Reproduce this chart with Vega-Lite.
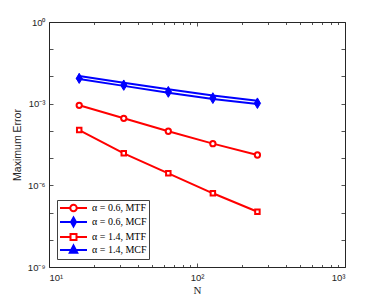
{
  "$schema": "https://vega.github.io/schema/vega-lite/v6.json",
  "width": 296,
  "height": 245,
  "autosize": "none",
  "padding": {"left": 49, "top": 22, "right": 37, "bottom": 33},
  "background": "white",
  "config": {
    "view": {"stroke": "#262626", "strokeWidth": 1},
    "axis": {"domain": false, "grid": false, "tickColor": "#262626", "labelColor": "#262626", "labelFont": "Liberation Sans", "labelFontSize": 9.5, "titleColor": "#262626", "tickWidth": 0.8}
  },
  "data": {"values": [
    {"series": "α = 0.6, MTF", "N": 16, "err": 8.7e-4},
    {"series": "α = 0.6, MTF", "N": 32, "err": 2.9e-4},
    {"series": "α = 0.6, MTF", "N": 64, "err": 9.7e-5},
    {"series": "α = 0.6, MTF", "N": 128, "err": 3.4e-5},
    {"series": "α = 0.6, MTF", "N": 256, "err": 1.3e-5},
    {"series": "α = 0.6, MCF", "N": 16, "err": 8.1e-3},
    {"series": "α = 0.6, MCF", "N": 32, "err": 4.5e-3},
    {"series": "α = 0.6, MCF", "N": 64, "err": 2.5e-3},
    {"series": "α = 0.6, MCF", "N": 128, "err": 1.48e-3},
    {"series": "α = 0.6, MCF", "N": 256, "err": 9.7e-4},
    {"series": "α = 1.4, MTF", "N": 16, "err": 1.07e-4},
    {"series": "α = 1.4, MTF", "N": 32, "err": 1.5e-5},
    {"series": "α = 1.4, MTF", "N": 64, "err": 2.76e-6},
    {"series": "α = 1.4, MTF", "N": 128, "err": 5.1e-7},
    {"series": "α = 1.4, MTF", "N": 256, "err": 1.07e-7},
    {"series": "α = 1.4, MCF", "N": 16, "err": 1.04e-2},
    {"series": "α = 1.4, MCF", "N": 32, "err": 5.9e-3},
    {"series": "α = 1.4, MCF", "N": 64, "err": 3.4e-3},
    {"series": "α = 1.4, MCF", "N": 128, "err": 2.0e-3},
    {"series": "α = 1.4, MCF", "N": 256, "err": 1.29e-3}
  ]},
  "resolve": {"axis": {"x": "independent", "y": "independent"}},
  "layer": [
    {
      "transform": [{"filter": "datum.N < 0"}],
      "mark": {"type": "point", "strokeWidth": 2, "opacity": 1},
      "encoding": {
        "x": {"field": "N", "type": "quantitative", "scale": {"type": "log", "domain": [10, 1000], "nice": false},
          "axis": {"orient": "bottom", "values": [10, 100, 1000], "tickSize": -4, "labelPadding": 9,
            "labelExpr": "datum.value < 50 ? '10¹' : datum.value < 500 ? '10²' : '10³'",
            "title": "N", "titleFont": "Liberation Serif", "titleFontSize": 11, "titleFontWeight": "normal", "titlePadding": 3}},
        "y": {"field": "err", "type": "quantitative", "scale": {"type": "log", "domain": [1e-9, 1], "nice": false},
          "axis": {"orient": "left", "values": [1e-9, 1e-8, 1e-7, 1e-6, 1e-5, 1e-4, 1e-3, 1e-2, 1e-1, 1], "tickSize": -4, "labelPadding": 8,
            "labelExpr": "round(log(datum.value)/LN10) == 0 ? '10⁰' : round(log(datum.value)/LN10) == -3 ? '10⁻³' : round(log(datum.value)/LN10) == -6 ? '10⁻⁶' : round(log(datum.value)/LN10) == -9 ? '10⁻⁹' : ''",
            "title": "Maximum Error", "titleFont": "Liberation Sans", "titleFontSize": 10.5, "titleFontWeight": "normal", "titlePadding": 5}},
        "color": {"field": "series", "type": "nominal",
          "scale": {"domain": ["α = 0.6, MTF", "α = 0.6, MCF", "α = 1.4, MTF", "α = 1.4, MCF"], "range": ["#ff0000", "#0000ff", "#ff0000", "#0000ff"]},
          "legend": {"title": null, "orient": "bottom-left", "offset": 8, "padding": 2, "strokeColor": "#404040", "fillColor": "white",
            "labelFont": "Liberation Serif", "labelFontSize": 10, "labelColor": "black", "symbolSize": 100, "symbolStrokeWidth": 2, "rowPadding": -6, "labelOffset": 21}},
        "shape": {"field": "series", "type": "nominal",
          "scale": {"domain": ["α = 0.6, MTF", "α = 0.6, MCF", "α = 1.4, MTF", "α = 1.4, MCF"],
            "range": ["M-1,0L1.05,0M2.35,0L4.4,0M2.35,0A0.65,0.65,0,1,1,1.05,0A0.65,0.65,0,1,1,2.35,0", "M-1,0L4.4,0M1.7,-0.9L2.2,0L1.7,0.9L1.2,0Z", "M-1,0L1.1,0M2.3,0L4.4,0M1.1,-0.6L2.3,-0.6L2.3,0.6L1.1,0.6Z", "M-1,0L4.4,0M1.7,-0.9L2.45,0.55L0.95,0.55Z"]},
          "legend": null},
        "fill": {"field": "series", "type": "nominal", "scale": {"domain": ["α = 0.6, MTF", "α = 0.6, MCF", "α = 1.4, MTF", "α = 1.4, MCF"], "range": ["white", "#0000ff", "white", "#0000ff"]}, "legend": null}
      }
    },
    {
      "mark": {"type": "line", "strokeWidth": 2},
      "encoding": {
        "x": {"field": "N", "type": "quantitative", "axis": {"orient": "top", "values": [10, 100, 1000], "tickSize": -4, "labels": false, "title": null}},
        "y": {"field": "err", "type": "quantitative", "axis": {"orient": "right", "values": [1e-9, 1e-8, 1e-7, 1e-6, 1e-5, 1e-4, 1e-3, 1e-2, 1e-1, 1], "tickSize": -4, "labels": false, "title": null}},
        "color": {"field": "series", "type": "nominal", "legend": null}
      }
    },
    {
      "transform": [{"filter": "datum.series == 'α = 0.6, MTF'"}],
      "mark": {"type": "point", "shape": "circle", "size": 28, "strokeWidth": 2, "stroke": "#ff0000", "fill": "white", "filled": false, "opacity": 1, "fillOpacity": 1},
      "encoding": {
        "x": {"field": "N", "type": "quantitative", "axis": {"orient": "bottom", "values": [20, 30, 40, 50, 60, 70, 80, 90, 200, 300, 400, 500, 600, 700, 800, 900], "tickSize": -2.5, "labels": false, "title": null}},
        "y": {"field": "err", "type": "quantitative", "axis": null}
      }
    },
    {
      "transform": [{"filter": "datum.series == 'α = 0.6, MCF'"}],
      "mark": {"type": "point", "shape": "M0,-1L0.6,0L0,1L-0.6,0Z", "size": 80, "strokeWidth": 1, "stroke": "#0000ff", "fill": "#0000ff", "filled": true, "opacity": 1},
      "encoding": {
        "x": {"field": "N", "type": "quantitative", "axis": {"orient": "top", "values": [20, 30, 40, 50, 60, 70, 80, 90, 200, 300, 400, 500, 600, 700, 800, 900], "tickSize": -2.5, "labels": false, "title": null}},
        "y": {"field": "err", "type": "quantitative", "axis": null}
      }
    },
    {
      "transform": [{"filter": "datum.series == 'α = 1.4, MTF'"}],
      "mark": {"type": "point", "shape": "square", "size": 20, "strokeWidth": 2, "stroke": "#ff0000", "fill": "white", "filled": false, "opacity": 1, "fillOpacity": 1},
      "encoding": {
        "x": {"field": "N", "type": "quantitative", "axis": null},
        "y": {"field": "err", "type": "quantitative", "axis": null}
      }
    },
    {
      "transform": [{"filter": "datum.series == 'α = 1.4, MCF'"}],
      "mark": {"type": "point", "shape": "triangle-up", "size": 40, "strokeWidth": 1, "stroke": "#0000ff", "fill": "#0000ff", "filled": true, "opacity": 1},
      "encoding": {
        "x": {"field": "N", "type": "quantitative", "axis": null},
        "y": {"field": "err", "type": "quantitative", "axis": null}
      }
    }
  ]
}
